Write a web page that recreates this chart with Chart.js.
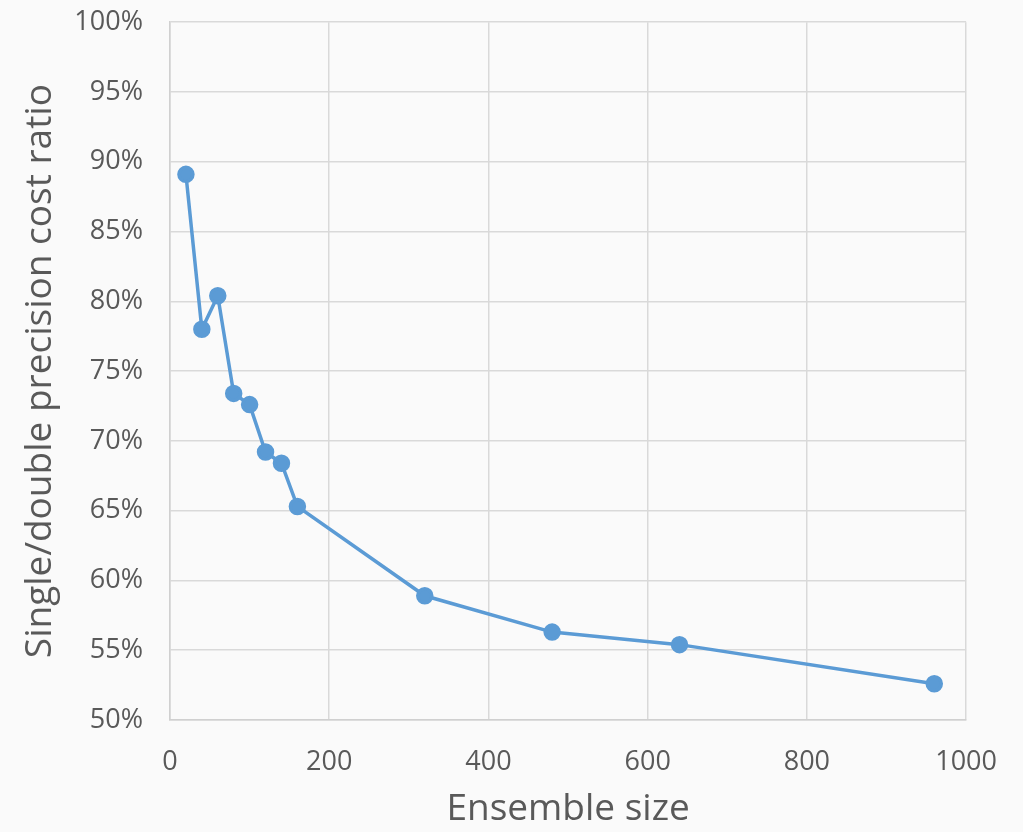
<!DOCTYPE html>
<html>
<head>
<meta charset="utf-8">
<script src="https://cdn.jsdelivr.net/npm/chart.js@4"></script>
<style>
  html, body { margin: 0; padding: 0; background: #fafafa; overflow: hidden; }
  #frame { width: 1023px; height: 832px; overflow: hidden; }
  /* kanvas sedikit lebih tinggi lalu digeser ke atas, biar area plot mulai di y=20 */
  #wrap { width: 1023px; height: 853px; margin-top: -21px; }
</style>
</head>
<body>
<div id="frame"><div id="wrap"><canvas id="chart"></canvas></div></div>
<script>
// --- data
const ensembleSizes = [20, 40, 60, 80, 100, 120, 140, 160, 320, 480, 640, 960];
const costRatio = [89.1, 78.0, 80.4, 73.4, 72.6, 69.2, 68.4, 65.3, 58.9, 56.3, 55.4, 52.6];
const xTitle = "Ensemble size";
const yTitle = "Single/double precision cost ratio";

const points = ensembleSizes.map((x, i) => ({ x: x, y: costRatio[i] }));

const tickFont = { family: "'Open Sans', 'Noto Sans', sans-serif", size: 27 };
const titleFont = { family: "'Open Sans', 'Noto Sans', sans-serif", size: 37 };

new Chart(document.getElementById("chart").getContext("2d"), {
  type: "line",
  data: {
    datasets: [{
      data: points,
      borderColor: "#5b9bd5",
      backgroundColor: "#5b9bd5",
      borderWidth: 3.5,
      pointRadius: 7,
      pointHoverRadius: 7,
      tension: 0
    }]
  },
  options: {
    responsive: true,
    maintainAspectRatio: false,
    animation: false,
    layout: { padding: { left: 0, top: 0, right: 55, bottom: 0 } },
    plugins: { legend: { display: false }, tooltip: { enabled: false } },
    scales: {
      x: {
        type: "linear",
        min: 0, max: 1000,
        ticks: { stepSize: 200, color: "#595959", font: tickFont, padding: 26, maxRotation: 0, callback: v => String(v) },
        grid: { color: "#d9d9d9", lineWidth: 1.5, drawTicks: false },
        border: { color: "#d0d0d0", width: 1.5 },
        title: { display: true, text: xTitle, color: "#595959", font: titleFont, padding: { top: 10, bottom: 0 } },
        afterFit: s => { s.height = 112; }
      },
      y: {
        min: 50, max: 100,
        ticks: { stepSize: 5, color: "#595959", font: tickFont, padding: 27, callback: v => v + "%" },
        grid: { color: "#d9d9d9", lineWidth: 1.5, drawTicks: false },
        border: { color: "#d0d0d0", width: 1.5 },
        title: { display: true, text: yTitle, color: "#595959", font: titleFont, padding: { top: 18, bottom: 0 } },
        afterFit: s => { s.width = 170; }
      }
    }
  }
});
</script>
</body>
</html>
